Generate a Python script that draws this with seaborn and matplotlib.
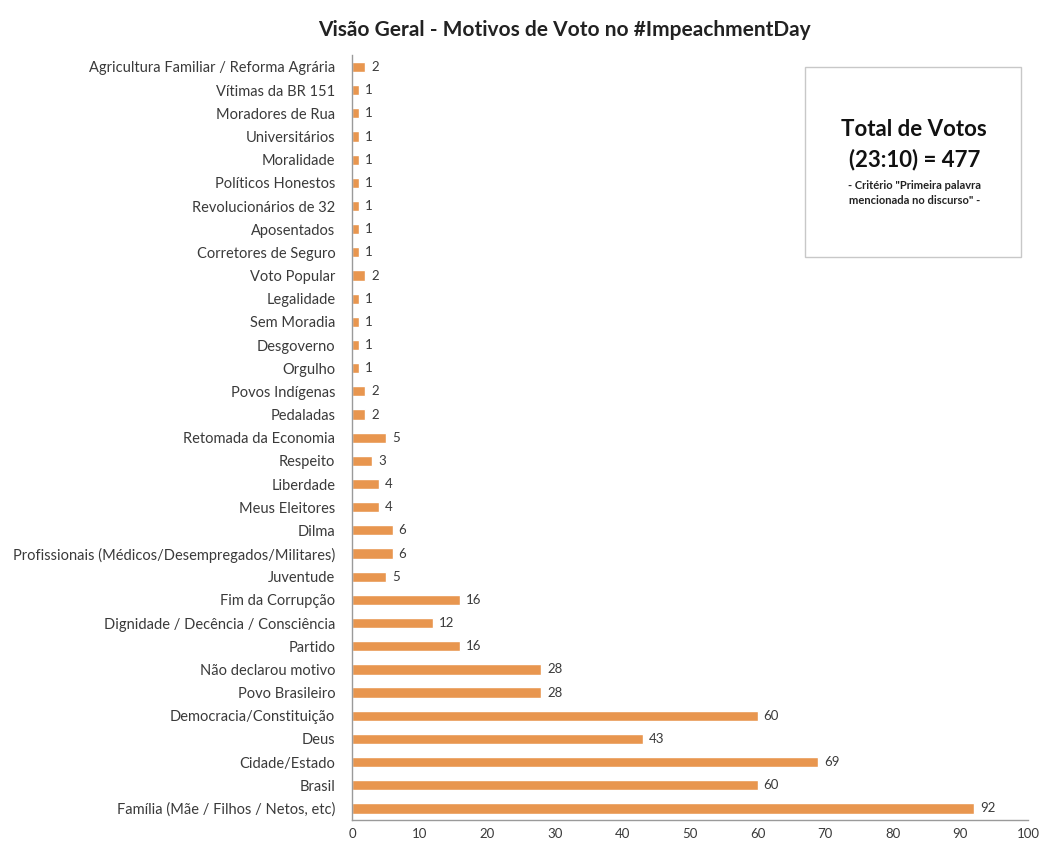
import matplotlib
matplotlib.use("Agg")
import matplotlib.pyplot as plt
import seaborn as sns
import pandas as pd
import numpy as np

categories = [
    "Agricultura Familiar / Reforma Agrária", "Vítimas da BR 151", "Moradores de Rua",
    "Universitários", "Moralidade", "Políticos Honestos", "Revolucionários de 32",
    "Aposentados", "Corretores de Seguro", "Voto Popular", "Legalidade", "Sem Moradia",
    "Desgoverno", "Orgulho", "Povos Indígenas", "Pedaladas", "Retomada da Economia",
    "Respeito", "Liberdade", "Meus Eleitores", "Dilma",
    "Profissionais (Médicos/Desempregados/Militares)", "Juventude", "Fim da Corrupção",
    "Dignidade / Decência / Consciência", "Partido", "Não declarou motivo",
    "Povo Brasileiro", "Democracia/Constituição", "Deus", "Cidade/Estado", "Brasil",
    "Família (Mãe / Filhos / Netos, etc)",
]
votes = [2, 1, 1, 1, 1, 1, 1, 1, 1, 2, 1, 1, 1, 1, 2, 2, 5, 3, 4, 4, 6, 6, 5, 16, 12, 16,
         28, 28, 60, 43, 69, 60, 92]
x_ticks = [0, 10, 20, 30, 40, 50, 60, 70, 80, 90, 100]

sns.set_theme(style="white")
plt.rcParams["font.family"] = ["Lato", "DejaVu Sans"]

df = pd.DataFrame({"motivo": categories, "votos": votes})

fig = plt.figure(figsize=(10.46, 8.46), dpi=100)
ax = fig.add_axes([0.3365, 0.0307, 0.6463, 0.9038])
sns.barplot(data=df, x="votos", y="motivo", color="#E8964F", width=0.44,
            saturation=1, ax=ax, orient="h")

ax.set_xlim(0, 100)
ax.set_ylim(len(categories) - 0.5, -0.5)
ax.set_xticks(x_ticks)
ax.set_xlabel("")
ax.set_ylabel("")
for s in ["top", "right"]:
    ax.spines[s].set_visible(False)
for s in ["left", "bottom"]:
    ax.spines[s].set_color("#9a9a9a")
    ax.spines[s].set_linewidth(1.0)

ax.tick_params(axis="y", which="major", length=0, labelsize=10.5, labelcolor="#3a3a3a", pad=12)
ax.set_yticks(np.arange(-0.5, len(categories), 1), minor=True)
ax.tick_params(axis="y", which="minor", length=4, color="#9a9a9a", direction="out")
ax.tick_params(axis="x", which="major", length=4, color="#9a9a9a", direction="out",
               labelsize=9.5, labelcolor="#3a3a3a", pad=2)

for i, v in enumerate(votes):
    ax.text(v + 0.9, i, str(v), va="center", ha="left", fontsize=9.5, color="#3a3a3a")

fig.text(0.54, 0.965, "Visão Geral - Motivos de Voto no #ImpeachmentDay",
         ha="center", va="center", fontsize=15, fontweight="bold", color="#222222")

box = plt.Rectangle((805 / 1046, 1 - 257 / 846), 216 / 1046, 190 / 846,
                    transform=fig.transFigure, facecolor="white", edgecolor="#c8c8c8",
                    linewidth=1.0)
fig.patches.append(box)
fig.text(0.874, 1 - 130 / 846, "Total de Votos", ha="center", va="center",
         fontsize=16, fontweight="bold", color="#111111")
fig.text(0.874, 1 - 160 / 846, "(23:10) = 477", ha="center", va="center",
         fontsize=16, fontweight="bold", color="#111111")
fig.text(0.874, 1 - 185 / 846, "- Critério \"Primeira palavra", ha="center", va="center",
         fontsize=8, fontweight="bold", color="#222222")
fig.text(0.874, 1 - 200 / 846, "mencionada no discurso\" -", ha="center", va="center",
         fontsize=8, fontweight="bold", color="#222222")

fig.savefig("out.png", dpi=100, facecolor="white")
